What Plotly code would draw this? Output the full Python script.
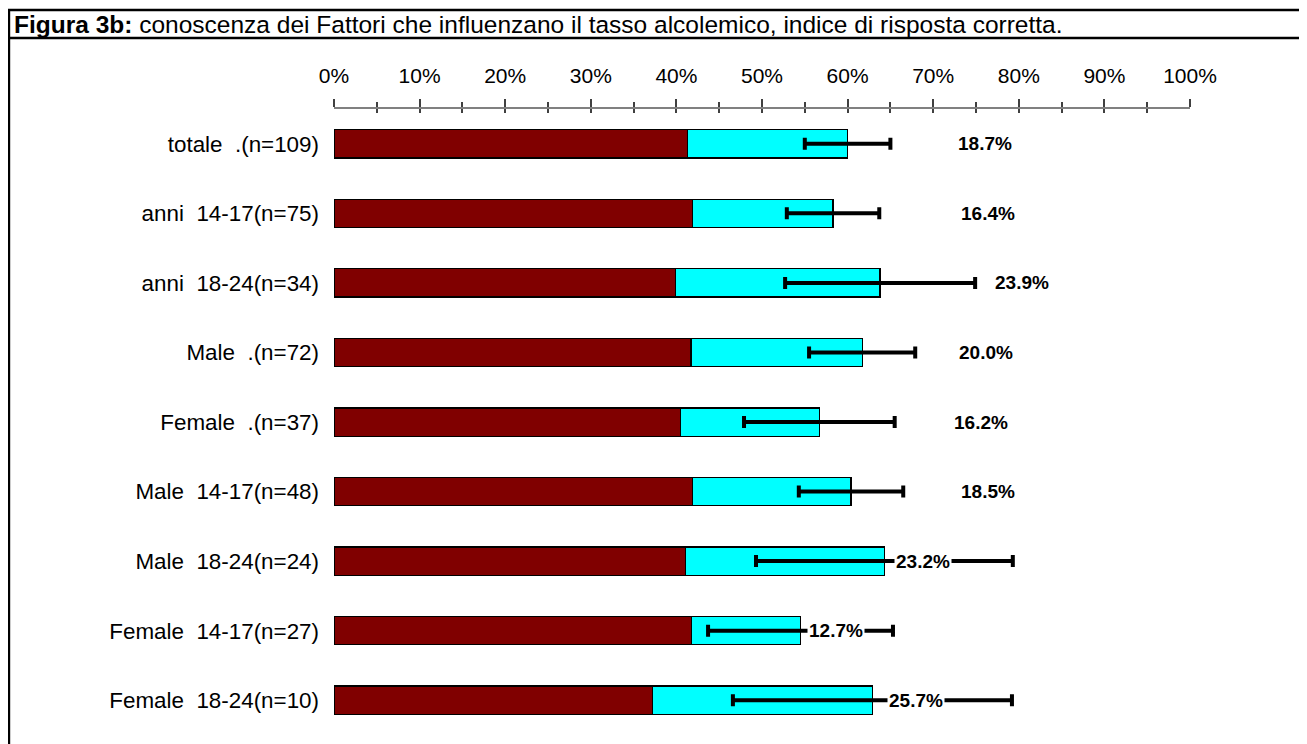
import plotly.graph_objects as go

# ---- data ----
categories = [
    "totale  .(n=109)",
    "anni  14-17(n=75)",
    "anni  18-24(n=34)",
    "Male  .(n=72)",
    "Female  .(n=37)",
    "Male  14-17(n=48)",
    "Male  18-24(n=24)",
    "Female  14-17(n=27)",
    "Female  18-24(n=10)",
]
base_pct = [41.3, 41.9, 39.9, 41.7, 40.5, 41.9, 41.1, 41.8, 37.2]      # maroon segment
extra_pct = [18.7, 16.4, 23.9, 20.0, 16.2, 18.5, 23.2, 12.7, 25.7]     # cyan segment (labelled)
err_pct = [5.0, 5.4, 11.1, 6.2, 8.8, 6.1, 15.0, 10.8, 16.3]            # error half-width
tick_vals = [0, 10, 20, 30, 40, 50, 60, 70, 80, 90, 100]
tick_text = [f"{v}%" for v in tick_vals]

# label placement (layout, in axis units)
label_pos = [76.0, 76.4, 80.4, 76.2, 75.6, 76.4, 68.8, 58.6, 68.0]

totals = [a + b for a, b in zip(base_pct, extra_pct)]

FONT = "Arial, Liberation Sans, sans-serif"

fig = go.Figure()
fig.add_trace(go.Bar(
    y=categories, x=base_pct, orientation="h",
    marker=dict(color="#800000", line=dict(color="#000000", width=1.3)),
    hoverinfo="skip", showlegend=False,
))
fig.add_trace(go.Bar(
    y=categories, x=extra_pct, orientation="h",
    marker=dict(color="#00FFFF", line=dict(color="#000000", width=1.3)),
    hoverinfo="skip", showlegend=False,
))
fig.add_trace(go.Scatter(
    y=categories, x=totals, mode="markers",
    marker=dict(opacity=0, size=1),
    error_x=dict(type="data", array=err_pct, symmetric=True,
                 color="#000000", thickness=4, width=6),
    hoverinfo="skip", showlegend=False,
))
# helper trace for the overlay axis (lower half of cross ticks)
fig.add_trace(go.Scatter(x=[], y=[], xaxis="x2", showlegend=False, hoverinfo="skip"))

for v, xp, cat in zip(extra_pct, label_pos, categories):
    fig.add_annotation(
        x=xp, y=cat, xref="x", yref="y", text=f"<b>{v:.1f}%</b>",
        showarrow=False, bgcolor="#FFFFFF", borderpad=1,
        font=dict(family=FONT, size=19, color="#000000"),
    )

# page has an 8px body margin; figure is placed at (8, 8)
OFF = 8
W, H = 1307 - OFF, 744 - OFF
L, R, T, B = 334 - OFF, 117, 109 - OFF, 9
pw, ph = W - L - R, H - T - B

def px(page_x):
    return (page_x - OFF - L) / pw

def py(page_y):
    return (H - B - (page_y - OFF)) / ph

# frame lines
fig.add_shape(type="line", xref="paper", yref="paper", x0=px(8), x1=px(1330),
              y0=py(10), y1=py(10), line=dict(color="#000000", width=2.4))
fig.add_shape(type="line", xref="paper", yref="paper", x0=px(8), x1=px(1330),
              y0=py(38), y1=py(38), line=dict(color="#000000", width=2.4))
fig.add_shape(type="line", xref="paper", yref="paper", x0=px(9), x1=px(9),
              y0=py(9), y1=py(780), line=dict(color="#000000", width=2.4))

fig.add_annotation(
    xref="paper", yref="paper", x=px(12), y=py(24), xanchor="left", yanchor="middle",
    text="<b>Figura 3b:</b> conoscenza dei Fattori che influenzano il tasso alcolemico, indice di risposta corretta.",
    showarrow=False, font=dict(family=FONT, size=24.5, color="#000000"),
)

fig.update_layout(
    width=W, height=H,
    margin=dict(l=L, r=R, t=T, b=B, pad=0),
    paper_bgcolor="#FFFFFF", plot_bgcolor="#FFFFFF",
    barmode="stack", bargap=0.593,
    font=dict(family=FONT, size=21, color="#000000"),
    xaxis=dict(
        range=[0, 100], side="top", tickvals=tick_vals, ticktext=tick_text,
        showgrid=False, zeroline=False,
        showline=True, linecolor="#808080", linewidth=2,
        ticks="outside", ticklen=8, tickwidth=1.5, tickcolor="#404040",
        minor=dict(dtick=5, tick0=0, ticks="outside", ticklen=5, tickwidth=1.5, tickcolor="#404040"),
        ticklabelstandoff=8,
        tickfont=dict(family=FONT, size=21, color="#000000"),
        fixedrange=True,
    ),
    xaxis2=dict(
        range=[0, 100], overlaying="x", side="top", anchor="y",
        tickvals=tick_vals, showticklabels=False, showgrid=False, zeroline=False,
        showline=False,
        ticks="inside", ticklen=4, tickwidth=1.5, tickcolor="#404040",
        minor=dict(dtick=5, tick0=0, ticks="inside", ticklen=4, tickwidth=1.5, tickcolor="#404040"),
        fixedrange=True,
    ),
    yaxis=dict(
        categoryorder="array", categoryarray=categories,
        range=[8.5, -0.5], showgrid=False, zeroline=False, showline=False,
        ticks="", ticklabelstandoff=14,
        tickfont=dict(family=FONT, size=22.4, color="#000000"),
        fixedrange=True,
    ),
)

fig.write_html("out.html")
